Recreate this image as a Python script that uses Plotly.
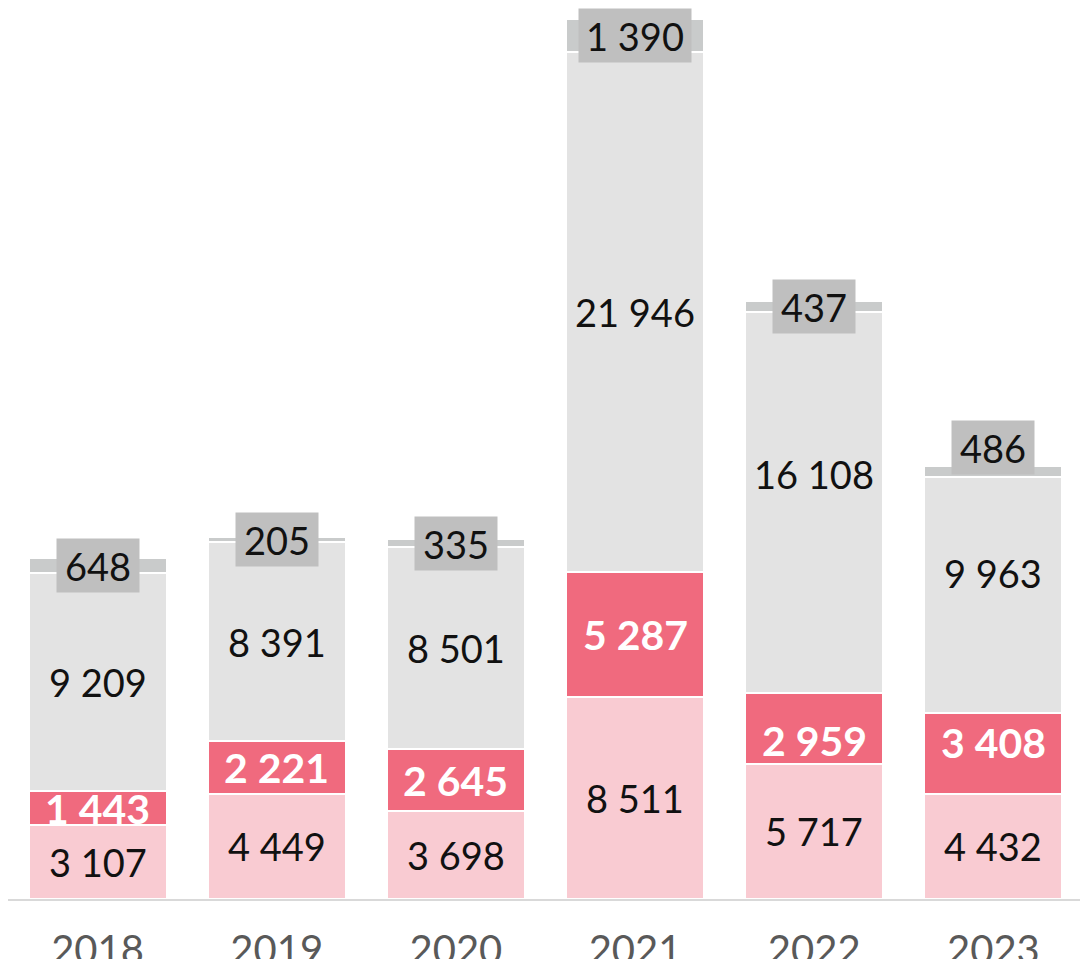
import plotly.graph_objects as go

years = ["2018", "2019", "2020", "2021", "2022", "2023"]
s_light_pink = [3107, 4449, 3698, 8511, 5717, 4432]
s_dark_pink = [1443, 2221, 2645, 5287, 2959, 3408]
s_light_gray = [9209, 8391, 8501, 21946, 16108, 9963]
s_top_gray = [648, 205, 335, 1390, 437, 486]

FONT = "Lato"
xpos = list(range(len(years)))

# per-label vertical nudges in pixels (style only), keyed by (series, column)
label_nudge_px = {
    ("gray", 4): 29, ("gray", 5): 22,
    ("dark", 4): -12, ("dark", 5): 11,
    ("top", 5): 24,
}


def fmt(v):
    return f"{v:,}".replace(",", " ")


fig = go.Figure()

series = [
    ("pink", s_light_pink, "#f9cbd2", "#111111", False, 38),
    ("dark", s_dark_pink, "#f06a7e", "#ffffff", True, 41),
    ("gray", s_light_gray, "#e3e3e3", "#111111", False, 38),
    ("top", s_top_gray, "#c9cbcb", "#111111", False, 38),
]

annotations = []
base = [0] * len(years)
for key, vals, col, tcol, bold, fsize in series:
    fig.add_trace(go.Bar(
        x=xpos, y=vals,
        marker=dict(color=col, line=dict(color="#ffffff", width=2)),
        hoverinfo="skip",
    ))
    for i in xpos:
        txt = fmt(vals[i])
        ann = dict(
            x=i, y=base[i] + vals[i] / 2, xref="x", yref="y",
            text=("<b>%s</b>" % txt) if bold else txt, showarrow=False,
            font=dict(size=fsize, color=tcol, family=FONT),
            xanchor="center", yanchor="middle",
            yshift=label_nudge_px.get((key, i), 0),
        )
        if key == "top":
            digits = sum(c.isdigit() for c in txt)
            spaces = txt.count(" ")
            ann.update(bgcolor="#bfbfbf", borderpad=0,
                       width=digits * 22 + spaces * 8 + 16, height=53)
        annotations.append(ann)
        base[i] += vals[i]

fig.update_layout(
    barmode="stack",
    bargap=0.23,
    showlegend=False,
    width=1080, height=951,
    margin=dict(l=0, r=5, t=10, b=60),
    plot_bgcolor="#ffffff",
    paper_bgcolor="#ffffff",
    annotations=annotations,
    font=dict(family=FONT),
)
fig.update_xaxes(
    range=[-0.5, len(years) - 0.5],
    tickmode="array", tickvals=xpos, ticktext=years,
    showline=True, linecolor="#d9d9d9", linewidth=2,
    showgrid=False, ticks="", zeroline=False,
    tickfont=dict(size=40, color="#595959", family=FONT),
    ticklabelstandoff=15,
    automargin=False,
)
fig.update_yaxes(
    range=[0, 37176], visible=False, showgrid=False, zeroline=False,
)

fig.write_html("out.html")
